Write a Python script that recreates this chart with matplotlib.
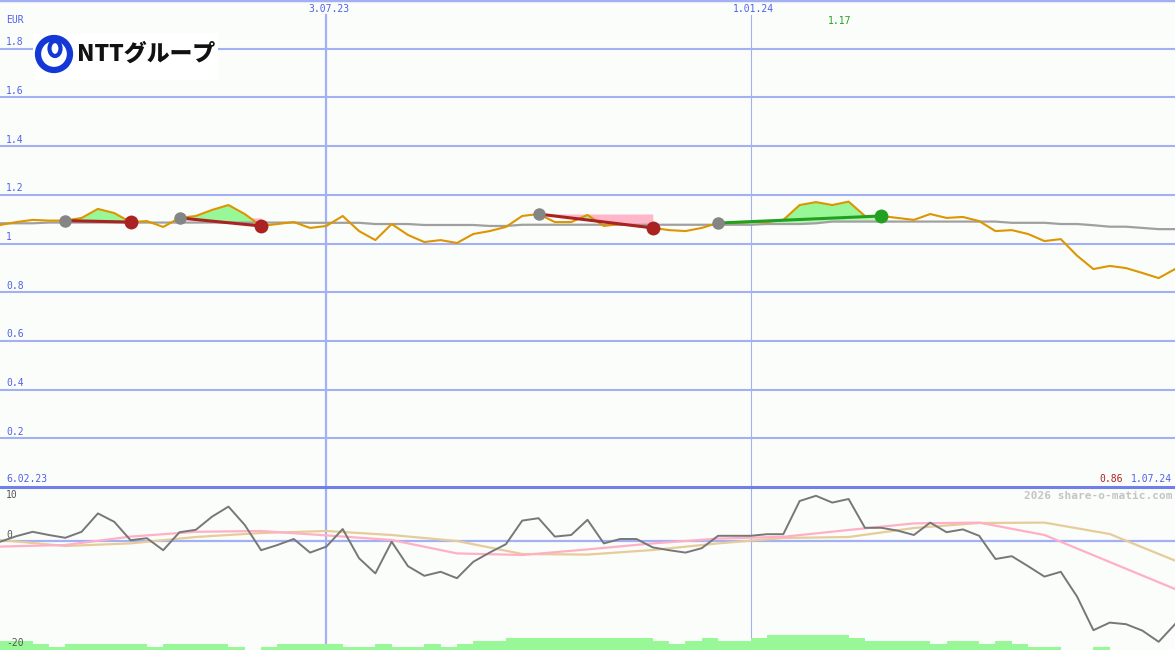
import numpy as np
import pandas as pd
import matplotlib
matplotlib.use('Agg')
import matplotlib.pyplot as plt
import matplotlib.transforms as mtransforms
from matplotlib.lines import Line2D
from matplotlib.patches import Circle, Ellipse, Rectangle

# weekly closes, EUR
dates = pd.date_range('2023-02-13', periods=73, freq='7D')
price = [1.076, 1.088, 1.097, 1.094, 1.094, 1.105, 1.142, 1.125, 1.088, 1.092,
         1.068, 1.105, 1.113, 1.138, 1.158, 1.121, 1.072, 1.080, 1.088, 1.064,
         1.072, 1.113, 1.051, 1.014, 1.080, 1.035, 1.006, 1.014, 1.002, 1.039,
         1.051, 1.068, 1.113, 1.121, 1.088, 1.088, 1.117, 1.072, 1.080, 1.072,
         1.064, 1.055, 1.051, 1.064, 1.084, 1.084, 1.088, 1.088, 1.097, 1.158,
         1.170, 1.158, 1.172, 1.113, 1.113, 1.105, 1.097, 1.121, 1.105, 1.109,
         1.092, 1.051, 1.055, 1.039, 1.010, 1.018, 0.950, 0.895, 0.908, 0.899,
         0.879, 0.858, 0.895]
avg = [1.083, 1.083, 1.083, 1.086, 1.086, 1.086, 1.086, 1.086, 1.086, 1.086,
       1.086, 1.086, 1.086, 1.086, 1.086, 1.086, 1.086, 1.086, 1.086, 1.085,
       1.085, 1.085, 1.085, 1.080, 1.080, 1.080, 1.076, 1.076, 1.076, 1.076,
       1.072, 1.072, 1.077, 1.077, 1.077, 1.077, 1.077, 1.077, 1.077, 1.077,
       1.077, 1.077, 1.077, 1.077, 1.077, 1.077, 1.077, 1.080, 1.080, 1.080,
       1.083, 1.090, 1.090, 1.090, 1.090, 1.090, 1.090, 1.090, 1.090, 1.090,
       1.090, 1.090, 1.085, 1.085, 1.085, 1.080, 1.080, 1.075, 1.069, 1.069,
       1.064, 1.059, 1.059]

# signals: entry week, exit week, winning?
trade_start = [4, 11, 33, 44]
trade_end = [8, 16, 40, 54]
trade_win = [False, False, False, True]

# lower panel
momentum = [-0.2, 1.2, 2.3, 1.5, 0.8, 2.3, 6.9, 4.8, 0.2, 0.7,
            -2.3, 2.2, 2.8, 6.1, 8.6, 4.0, -2.3, -1.0, 0.5, -2.9,
            -1.4, 3.0, -4.3, -8.1, -0.2, -6.3, -8.7, -7.7, -9.3, -5.2,
            -2.9, -0.8, 5.1, 5.7, 1.1, 1.5, 5.3, -0.6, 0.5, 0.5,
            -1.6, -2.3, -2.9, -1.8, 1.3, 1.3, 1.3, 1.7, 1.7, 10.0,
            11.3, 9.6, 10.5, 3.3, 3.3, 2.6, 1.5, 4.6, 2.2, 2.9,
            1.3, -4.5, -3.8, -6.3, -8.9, -7.7, -13.9, -22.3, -20.4, -20.8,
            -22.4, -25.2, -20.8]
smooth_weeks = list(range(0, 73, 4))
pink_line = [-1.4, -1.0, 1.1, 2.3, 2.5, 1.4, 0.25, -3.1, -3.5, -2.1,
             -0.6, 0.6, 1.05, 2.75, 4.4, 4.6, 1.5, -5.25, -12.0]
tan_line = [0.25, -1.25, -0.6, 1.0, 2.0, 2.5, 1.5, 0.0, -3.25, -3.4,
            -2.25, -0.6, 0.75, 1.0, 3.25, 4.5, 4.6, 1.75, -4.9]
volume_level = [3, 3, 2, 1, 2, 2, 2, 2, 2, 1,
                2, 2, 2, 2, 1, 0, 1, 2, 2, 2,
                2, 1, 1, 2, 1, 1, 2, 1, 2, 3,
                3, 4, 4, 4, 4, 4, 4, 4, 4, 4,
                3, 2, 3, 4, 3, 3, 4, 5, 5, 5,
                5, 5, 4, 3, 3, 3, 3, 2, 3, 3,
                2, 3, 2, 1, 1, 0, 0, 1, 0, 0,
                0, 0, 0]

price_ticks = [1.8, 1.6, 1.4, 1.2, 1.0, 0.8, 0.6, 0.4, 0.2]
price_tick_labels = ['1.8', '1.6', '1.4', '1.2', '1', '0.8', '0.6', '0.4', '0.2']
date_marks = [pd.Timestamp('2023-07-03'), pd.Timestamp('2024-01-01')]
date_mark_labels = ['3.07.23', '1.01.24']

bg = '#fbfdfb'
grid = '#a4b0f4'
blue_txt = '#5060e8'
mono = 'DejaVu Sans Mono'

W, H = 1175, 650
fig = plt.figure(figsize=(W / 100, H / 100), dpi=100, facecolor=bg)
split = 487
ax1 = fig.add_axes([0, 1 - split / H, 1, split / H])
ax2 = fig.add_axes([0, 0, 1, 1 - split / H])
for ax in (ax1, ax2):
    ax.set_facecolor(bg)
    for s in ax.spines.values():
        s.set_visible(False)
    ax.set_xticks([])
    ax.set_yticks([])
    ax.set_xlim(dates[0], dates[-1])

# ---- upper panel
ax1.set_ylim(0, 2.0)
for v in price_ticks:
    ax1.axhline(v, color=grid, lw=1.5, zorder=1)
ax1.axvline(date_marks[0], ymax=(split - 15) / split, color=grid, lw=1.6, zorder=1)
ax1.axvline(date_marks[1], ymax=(split - 15) / split, color=grid, lw=0.8, zorder=1)

tr1 = mtransforms.blended_transform_factory(ax1.transAxes, ax1.transData)
for v, lab in zip(price_ticks, price_tick_labels):
    ax1.text(6 / W, v + 0.006, lab, transform=tr1, ha='left', va='bottom',
             color=blue_txt, fontsize=7, family=mono)
ax1.text(6 / W, 1.918, 'EUR', transform=tr1, ha='left', va='center',
         color=blue_txt, fontsize=7, family=mono)
trd = mtransforms.blended_transform_factory(ax1.transData, ax1.transAxes)
for d, lab in zip(date_marks, date_mark_labels):
    ax1.text(d + pd.Timedelta(days=1), 1 - 9 / split, lab, transform=trd, ha='center',
             va='center', color=blue_txt, fontsize=7, family=mono)

p = np.array(price)
a = np.array(avg)
for s, e, win in zip(trade_start, trade_end, trade_win):
    d = dates[s:e + 1]
    seg = p[s:e + 1]
    line = np.linspace(p[s], p[e], e - s + 1)
    if win:
        ax1.fill_between(d, line, a[s:e + 1], color='#b4f6b4', lw=0, zorder=2)
    else:
        ax1.fill_between(d, p[s], line, color='#ffb6c8', lw=0, zorder=2)
    ax1.fill_between(d, seg, line, where=seg >= line, interpolate=True,
                     color='#98f898', lw=0, zorder=2)

ax1.plot(dates, avg, color='#a0a0a0', lw=1.6, zorder=3)
ax1.plot(dates, price, color='#dd9500', lw=1.5, zorder=4)
for s, e, win in zip(trade_start, trade_end, trade_win):
    c = '#22a022' if win else '#aa2222'
    ax1.plot([dates[s], dates[e]], [p[s], p[e]], color=c, lw=2.2, zorder=5)
    ax1.plot(dates[s], p[s], 'o', color='#858585', ms=9, mew=0, zorder=6)
    ax1.plot(dates[e], p[e], 'o', color=c, ms=10, mew=0, zorder=6)

imax = int(np.argmax(p))
ax1.text(dates[imax] - pd.Timedelta(days=4), 1 - 21 / split, f'{p[imax]:.2f}',
         transform=trd, ha='center', va='center', color='#22a022', fontsize=7, family=mono)

# ---- lower panel
lo, hi = -(H - 541) / 4, (541 - split) / 4
ax2.set_ylim(lo, hi)
ax2.axhline(0, color=grid, lw=1.6, zorder=1)
for d, w in zip(date_marks, [1.6, 0.8]):
    ax2.axvline(d, color=grid, lw=w, zorder=1)
ax2.bar(dates, np.array(volume_level) * 0.75, bottom=lo, width=7, align='edge',
        color='#98f898', lw=0, zorder=2)
ax2.plot(dates[smooth_weeks], tan_line, color='#e6cc9a', lw=1.6, zorder=3)
ax2.plot(dates[smooth_weeks], pink_line, color='#ffb0c6', lw=1.6, zorder=3)
ax2.plot(dates, momentum, color='#777777', lw=1.4, zorder=4)

tr2 = mtransforms.blended_transform_factory(ax2.transAxes, ax2.transData)
for v, lab in [(11.5, '10'), (1.5, '0'), (lo + 1.8, '-20')]:
    ax2.text(6 / W, v, lab, transform=tr2, ha='left', va='center',
             color='#555555', fontsize=7, family=mono)

fig.add_artist(Line2D([0, 1], [1, 1], color=grid, lw=2.5))
fig.add_artist(Line2D([0, 1], [1 - split / H] * 2, color='#7080e8', lw=2.2))
fig.text(6 / W, 1 - 479 / H, '6.02.23', ha='left', va='center', color=blue_txt,
         fontsize=7, family=mono)
fig.text(1172 / W, 1 - 479 / H, '1.07.24', ha='right', va='center', color=blue_txt,
         fontsize=7, family=mono)
fig.text(1123 / W, 1 - 479 / H, '0.86', ha='right', va='center', color='#aa2222',
         fontsize=7, family=mono)
fig.text(1172 / W, 1 - 496 / H, '2026 share-o-matic.com', ha='right', va='center',
         color='#c4c4c4', fontsize=8, family=mono, fontweight='bold')

# ---- logo
lg = fig.add_axes([33 / W, 1 - 80 / H, 185 / W, 47 / H])
lg.set_xlim(33, 218)
lg.set_ylim(80, 33)
lg.axis('off')
lg.add_patch(Rectangle((33, 33), 185, 47, color='white', lw=0))
nblue = '#1438d6'
lg.add_patch(Circle((54, 54), 16, fill=False, ec=nblue, lw=4.5))
lg.add_patch(Ellipse((55, 48.5), 11, 15, fill=False, ec=nblue, lw=3))
lg.text(77, 54, 'NTTグループ', ha='left', va='center', fontsize=16.5,
        family=['Noto Sans CJK JP', 'DejaVu Sans'], fontweight='black', color='#111111')

fig.savefig('out.png', dpi=100, facecolor=bg)
